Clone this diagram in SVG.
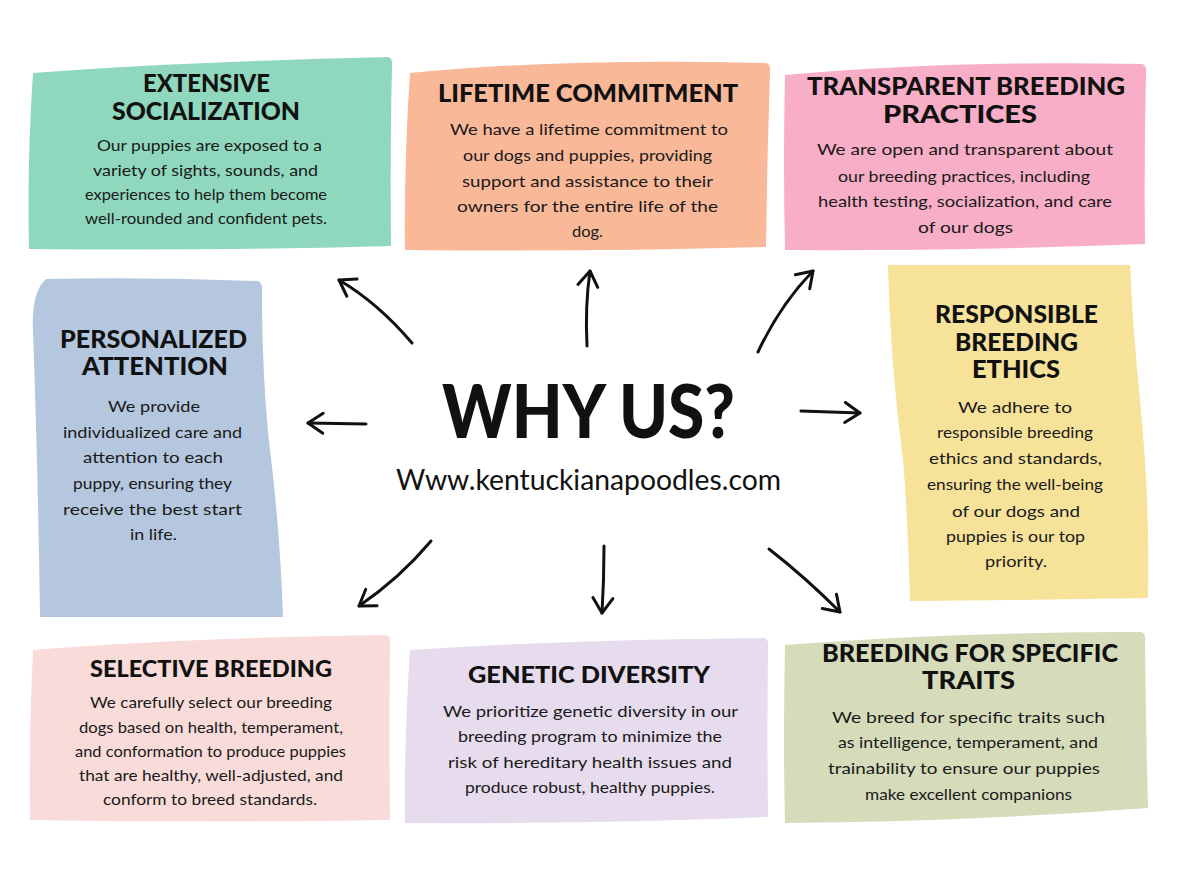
<svg xmlns="http://www.w3.org/2000/svg" width="1180" height="877" viewBox="0 0 1180 877">
<defs>
<style>
.h{font-family:Lato,"Open Sans","DejaVu Sans",sans-serif;font-weight:900;font-size:24px;fill:#111;text-anchor:start}
.h2{font-size:22px}
.b{font-family:Lato,"Open Sans","DejaVu Sans",sans-serif;font-weight:400;font-size:16px;fill:#1a1a1a}
.c{fill:none;stroke:#111;stroke-width:3;stroke-linecap:round;stroke-linejoin:round}
</style>
<marker id="ah" viewBox="-20 -14 24 28" markerWidth="24" markerHeight="28" refX="0" refY="0" orient="auto" markerUnits="userSpaceOnUse">
<path d="M-15,-10 L0,0 L-15,10" fill="none" stroke="#111" stroke-width="3" stroke-linecap="round" stroke-linejoin="round"/>
</marker>
</defs>
<rect width="1180" height="877" fill="#ffffff"/>

<g id="extensive-socialization">
<path d="M33,73 Q180,62 388,57 Q393,58 392,66 Q390,150 391,246 Q210,251 29,249 Q27,160 33,73 Z" fill="#8fd8bd"/>
<text class="h" x="143" y="92" textLength="127" lengthAdjust="spacingAndGlyphs">EXTENSIVE</text>
<text class="h" x="112" y="120" textLength="188" lengthAdjust="spacingAndGlyphs">SOCIALIZATION</text>
<text class="b" x="97" y="151" textLength="225" lengthAdjust="spacingAndGlyphs">Our puppies are exposed to a</text>
<text class="b" x="93" y="176" textLength="225" lengthAdjust="spacingAndGlyphs">variety of sights, sounds, and</text>
<text class="b" x="85" y="200" textLength="242" lengthAdjust="spacingAndGlyphs">experiences to help them become</text>
<text class="b" x="85" y="224" textLength="242" lengthAdjust="spacingAndGlyphs">well-rounded and confident pets.</text>
</g>

<g id="lifetime-commitment">
<path d="M410,73 Q560,58 766,63 Q771,64 770,72 Q767,160 766,247 Q590,252 405,250 Q404,160 410,73 Z" fill="#f9b898"/>
<text class="h" x="438" y="102" textLength="300" lengthAdjust="spacingAndGlyphs">LIFETIME COMMITMENT</text>
<text class="b" x="450" y="135" textLength="278" lengthAdjust="spacingAndGlyphs">We have a lifetime commitment to</text>
<text class="b" x="463" y="161" textLength="249" lengthAdjust="spacingAndGlyphs">our dogs and puppies, providing</text>
<text class="b" x="462" y="187" textLength="251" lengthAdjust="spacingAndGlyphs">support and assistance to their</text>
<text class="b" x="457" y="212" textLength="261" lengthAdjust="spacingAndGlyphs">owners for the entire life of the</text>
<text class="b" x="572" y="237" textLength="31" lengthAdjust="spacingAndGlyphs">dog.</text>
</g>

<g id="transparent-breeding-practices">
<path d="M785,75 Q950,60 1142,64 Q1147,65 1146,73 Q1144,160 1145,244 Q960,251 785,250 Q783,160 785,75 Z" fill="#f8aec6"/>
<text class="h" x="807" y="95" textLength="318" lengthAdjust="spacingAndGlyphs">TRANSPARENT BREEDING</text>
<text class="h" x="883" y="123" textLength="154" lengthAdjust="spacingAndGlyphs">PRACTICES</text>
<text class="b" x="817" y="155" textLength="296" lengthAdjust="spacingAndGlyphs">We are open and transparent about</text>
<text class="b" x="838" y="182" textLength="252" lengthAdjust="spacingAndGlyphs">our breeding practices, including</text>
<text class="b" x="818" y="207" textLength="294" lengthAdjust="spacingAndGlyphs">health testing, socialization, and care</text>
<text class="b" x="918" y="233" textLength="95" lengthAdjust="spacingAndGlyphs">of our dogs</text>
</g>

<g id="personalized-attention">
<path d="M46,279 Q150,277 258,281 Q263,283 262,292 Q262,380 270,450 Q280,530 283,617 L40,617 Q38,470 33,332 Q31,292 46,279 Z" fill="#b4c7de"/>
<text class="h" x="60" y="348" textLength="187" lengthAdjust="spacingAndGlyphs">PERSONALIZED</text>
<text class="h" x="82" y="375" textLength="146" lengthAdjust="spacingAndGlyphs">ATTENTION</text>
<text class="b" x="108" y="412" textLength="92" lengthAdjust="spacingAndGlyphs">We provide</text>
<text class="b" x="63" y="438" textLength="179" lengthAdjust="spacingAndGlyphs">individualized care and</text>
<text class="b" x="83" y="463" textLength="140" lengthAdjust="spacingAndGlyphs">attention to each</text>
<text class="b" x="73" y="489" textLength="159" lengthAdjust="spacingAndGlyphs">puppy, ensuring they</text>
<text class="b" x="63" y="515" textLength="179" lengthAdjust="spacingAndGlyphs">receive the best start</text>
<text class="b" x="130" y="540" textLength="47" lengthAdjust="spacingAndGlyphs">in life.</text>
</g>

<g id="responsible-breeding-ethics">
<path d="M888,265 L1130,265 Q1133,330 1140,400 Q1150,500 1148,598 Q1030,600 910,601 Q908,520 903,460 Q890,360 888,265 Z" fill="#f7e29a"/>
<text class="h" x="935" y="323" textLength="163" lengthAdjust="spacingAndGlyphs">RESPONSIBLE</text>
<text class="h" x="955" y="351" textLength="123" lengthAdjust="spacingAndGlyphs">BREEDING</text>
<text class="h" x="972" y="378" textLength="88" lengthAdjust="spacingAndGlyphs">ETHICS</text>
<text class="b" x="958" y="413" textLength="114" lengthAdjust="spacingAndGlyphs">We adhere to</text>
<text class="b" x="937" y="438" textLength="156" lengthAdjust="spacingAndGlyphs">responsible breeding</text>
<text class="b" x="929" y="464" textLength="173" lengthAdjust="spacingAndGlyphs">ethics and standards,</text>
<text class="b" x="927" y="490" textLength="176" lengthAdjust="spacingAndGlyphs">ensuring the well-being</text>
<text class="b" x="952" y="517" textLength="128" lengthAdjust="spacingAndGlyphs">of our dogs and</text>
<text class="b" x="946" y="542" textLength="139" lengthAdjust="spacingAndGlyphs">puppies is our top</text>
<text class="b" x="985" y="567" textLength="62" lengthAdjust="spacingAndGlyphs">priority.</text>
</g>

<g id="selective-breeding">
<path d="M33,650 Q180,638 386,635 Q391,636 390,644 Q389,730 390,820 Q210,823 30,820 Q29,730 33,650 Z" fill="#f9dcda"/>
<text class="h h2" x="90" y="677" textLength="242" lengthAdjust="spacingAndGlyphs">SELECTIVE BREEDING</text>
<text class="b" x="90" y="708" textLength="242" lengthAdjust="spacingAndGlyphs">We carefully select our breeding</text>
<text class="b" x="79" y="733" textLength="264" lengthAdjust="spacingAndGlyphs">dogs based on health, temperament,</text>
<text class="b" x="75" y="757" textLength="271" lengthAdjust="spacingAndGlyphs">and conformation to produce puppies</text>
<text class="b" x="79" y="781" textLength="264" lengthAdjust="spacingAndGlyphs">that are healthy, well-adjusted, and</text>
<text class="b" x="103" y="805" textLength="214" lengthAdjust="spacingAndGlyphs">conform to breed standards.</text>
</g>

<g id="genetic-diversity">
<path d="M410,650 Q560,640 764,638 Q769,639 768,647 Q767,730 768,817 Q590,824 405,823 Q404,740 410,650 Z" fill="#e7dcee"/>
<text class="h h2" x="468" y="683" textLength="242" lengthAdjust="spacingAndGlyphs">GENETIC DIVERSITY</text>
<text class="b" x="443" y="717" textLength="295" lengthAdjust="spacingAndGlyphs">We prioritize genetic diversity in our</text>
<text class="b" x="458" y="742" textLength="264" lengthAdjust="spacingAndGlyphs">breeding program to minimize the</text>
<text class="b" x="448" y="768" textLength="284" lengthAdjust="spacingAndGlyphs">risk of hereditary health issues and</text>
<text class="b" x="465" y="793" textLength="250" lengthAdjust="spacingAndGlyphs">produce robust, healthy puppies.</text>
</g>

<g id="breeding-for-specific-traits">
<path d="M785,645 Q950,632 1141,632 Q1146,633 1145,641 Q1146,730 1148,808 Q960,822 785,823 Q783,740 785,645 Z" fill="#d6dcba"/>
<text class="h" x="822" y="662" textLength="296" lengthAdjust="spacingAndGlyphs">BREEDING FOR SPECIFIC</text>
<text class="h" x="922" y="689" textLength="93" lengthAdjust="spacingAndGlyphs">TRAITS</text>
<text class="b" x="832" y="723" textLength="273" lengthAdjust="spacingAndGlyphs">We breed for specific traits such</text>
<text class="b" x="838" y="748" textLength="260" lengthAdjust="spacingAndGlyphs">as intelligence, temperament, and</text>
<text class="b" x="828" y="774" textLength="272" lengthAdjust="spacingAndGlyphs">trainability to ensure our puppies</text>
<text class="b" x="865" y="800" textLength="207" lengthAdjust="spacingAndGlyphs">make excellent companions</text>
</g>

<g id="center">
<text x="442" y="438" font-family="Lato,'Open Sans',sans-serif" font-weight="900" font-size="74" fill="#111" textLength="293" lengthAdjust="spacingAndGlyphs">WHY US?</text>
<text x="396" y="490" font-family="Lato,'Open Sans',sans-serif" font-weight="400" font-size="29" fill="#111" textLength="385" lengthAdjust="spacingAndGlyphs">Www.kentuckianapoodles.com</text>
</g>

<g id="connectors">
<path class="c" d="M412,343 Q378,303 339,280" marker-end="url(#ah)"/>
<path class="c" d="M587,346 Q585,305 590,271" marker-end="url(#ah)"/>
<path class="c" d="M758,352 Q780,305 813,271" marker-end="url(#ah)"/>
<path class="c" d="M366,424 L308,423" marker-end="url(#ah)"/>
<path class="c" d="M801,411 L860,413" marker-end="url(#ah)"/>
<path class="c" d="M431,541 Q400,578 359,606" marker-end="url(#ah)"/>
<path class="c" d="M604,546 Q604,580 602,613" marker-end="url(#ah)"/>
<path class="c" d="M769,549 Q805,577 840,612" marker-end="url(#ah)"/>
</g>
</svg>
